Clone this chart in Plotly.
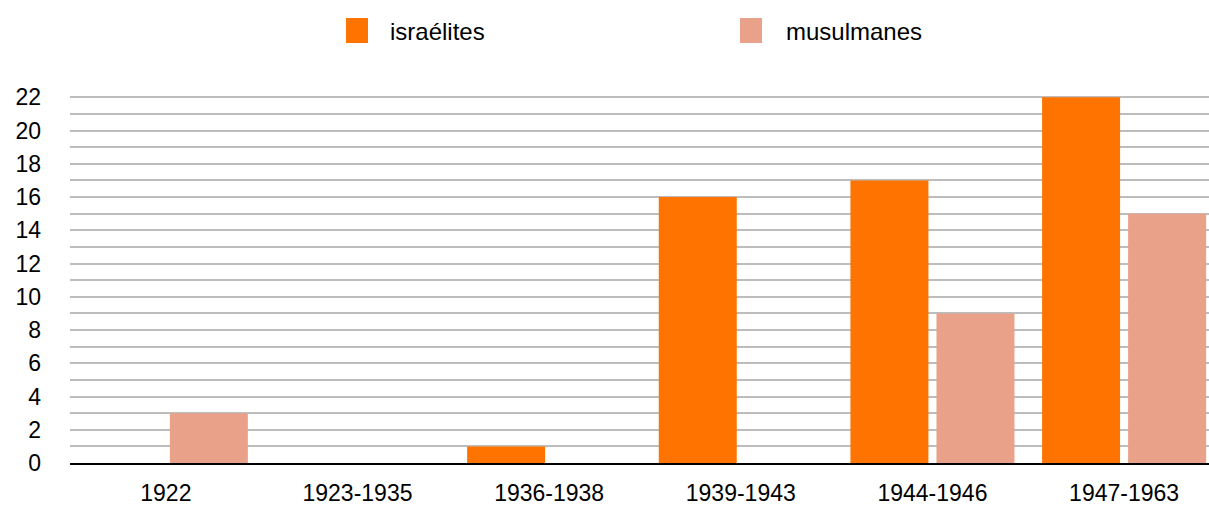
import plotly.graph_objects as go

categories = ["1922", "1923-1935", "1936-1938", "1939-1943", "1944-1946", "1947-1963"]
israelites = [0, 0, 1, 16, 17, 22]
musulmanes = [3, 0, 0, 0, 9, 15]
series_names = ["israélites", "musulmanes"]
colors = ["#FF7400", "#E9A189"]
y_ticks = list(range(0, 23, 2))

FONT = "Helvetica, Arial, Liberation Sans, sans-serif"

BAR_W = 0.407
offsets = [-0.428, 0.021]

fig = go.Figure()
for name, vals, col, off in zip(series_names, [israelites, musulmanes], colors, offsets):
    fig.add_trace(go.Bar(x=categories, y=vals, name=name, width=BAR_W, offset=off,
                         marker=dict(color=col, line=dict(width=0)), showlegend=False))

W, H = 1209, 505
L, R, T, B = 70, 0, 94, 42
pw = W - L - R
ph = H - T - B

def px(x):
    return (x - L) / pw

def py(y):
    return (H - B - y) / ph

# manual legend
legend_items = [(346, 368, 388), (740, 762, 784)]
for (x0, x1, xt), name, col in zip(legend_items, series_names, colors):
    fig.add_shape(type="rect", xref="paper", yref="paper", x0=px(x0), x1=px(x1),
                  y0=py(43), y1=py(18), fillcolor=col, line=dict(width=0))
    fig.add_annotation(xref="paper", yref="paper", x=px(xt), y=py(31), text=name,
                       showarrow=False, xanchor="left", yanchor="middle",
                       font=dict(family=FONT, size=24, color="#000"))

fig.update_layout(
    width=W, height=H,
    margin=dict(l=L, r=R, t=T, b=B, pad=0),
    paper_bgcolor="white", plot_bgcolor="white",
    barmode="overlay",
    font=dict(family=FONT, size=23, color="#000"),
    xaxis=dict(range=[-0.5, 5.443], showgrid=False, showline=True, linecolor="#000",
               linewidth=2, ticks="", tickfont=dict(size=23), ticklabelstandoff=8,
               zeroline=False),
    yaxis=dict(range=[0, 22.2], tickvals=y_ticks, showgrid=True, gridcolor="#BDBDBD",
               gridwidth=2, zeroline=False, showline=False, ticks="",
               tickfont=dict(size=23), ticklabelstandoff=28,
               minor=dict(dtick=1, showgrid=True, gridcolor="#BDBDBD", gridwidth=2)),
)

fig.write_html("out.html", config={"displayModeBar": False},
               post_script="document.body.style.margin='0';document.body.style.overflow='hidden';")
